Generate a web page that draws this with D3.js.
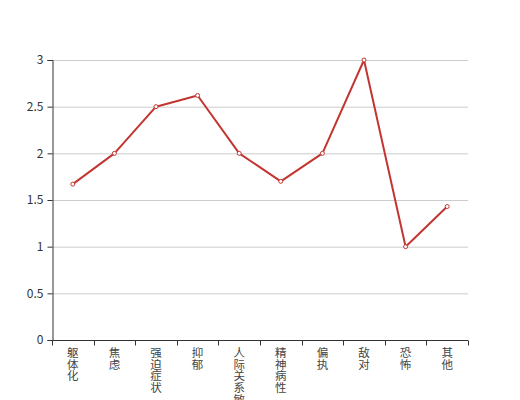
<!DOCTYPE html>
<html><head><meta charset="utf-8">
<script src="https://cdn.jsdelivr.net/npm/d3@7/dist/d3.min.js"></script>
<style>body{margin:0;background:#fff;}svg{display:block;}</style>
</head><body>
<svg id="c" width="520" height="400"></svg>
<script>
const categories = ["躯体化","焦虑","强迫症状","抑郁","人际关系敏感","精神病性","偏执","敌对","恐怖","其他"];
const values = [1.67, 2, 2.5, 2.62, 2, 1.7, 2, 3, 1, 1.43];
const yTicks = [0, 0.5, 1, 1.5, 2, 2.5, 3];

const svg = d3.select("#c");
const m = {l:52, r:52, t:60, b:60};
const W = 520, H = 400;
const x = d3.scaleBand().domain(categories).range([m.l, W - m.r]);
const y = d3.scaleLinear().domain([0, 3]).range([H - m.b, m.t]);
const font = "'Noto Sans CJK SC', sans-serif";

// grid
svg.append("g").selectAll("line").data(yTicks.filter(d => d > 0)).join("line")
  .attr("x1", m.l).attr("x2", W - m.r)
  .attr("y1", d => y(d) + 0.5).attr("y2", d => y(d) + 0.5)
  .attr("stroke", "#ccc").attr("stroke-width", 1);

// y axis
const ya = svg.append("g").attr("transform", `translate(${m.l + 0.5},0)`)
  .call(d3.axisLeft(y).tickValues(yTicks).tickSize(5).tickPadding(4).tickFormat(d3.format("")));
ya.select(".domain").attr("stroke", "#333");
ya.selectAll(".tick line").attr("stroke", "#333");
ya.selectAll("text").attr("fill", "#333").style("font-size", "12px").style("font-family", font);

// x axis
const xa = svg.append("g").attr("transform", `translate(0,${H - m.b + 0.5})`);
xa.append("line").attr("x1", m.l).attr("x2", W - m.r).attr("stroke", "#333");
const bounds = categories.map(c => x(c)).concat([x(categories[categories.length - 1]) + x.bandwidth()]);
xa.selectAll("line.tk").data(bounds).join("line").attr("class", "tk")
  .attr("x1", d => Math.round(d) + 0.5).attr("x2", d => Math.round(d) + 0.5)
  .attr("y1", 0).attr("y2", 5).attr("stroke", "#333");
xa.selectAll("text").data(categories).join("text")
  .attr("x", d => x(d) + x.bandwidth() / 2)
  .attr("y", 6)
  .attr("text-anchor", "start")
  .style("writing-mode", "vertical-rl")
  .style("text-orientation", "upright")
  .style("letter-spacing", "0.4px")
  .attr("fill", "#444").style("font-size", "11.5px").style("font-family", font)
  .text(d => d);

// line
const px = d => x(d) + x.bandwidth() / 2;
svg.append("path").datum(values)
  .attr("fill", "none").attr("stroke", "#c23531").attr("stroke-width", 2)
  .attr("stroke-linejoin", "bevel")
  .attr("d", d3.line().x((d, i) => px(categories[i])).y(d => y(d)));
svg.append("g").selectAll("circle").data(values).join("circle")
  .attr("cx", (d, i) => px(categories[i])).attr("cy", d => y(d))
  .attr("r", 2).attr("fill", "#fff").attr("stroke", "#c23531").attr("stroke-width", 1);
</script>
</body></html>
